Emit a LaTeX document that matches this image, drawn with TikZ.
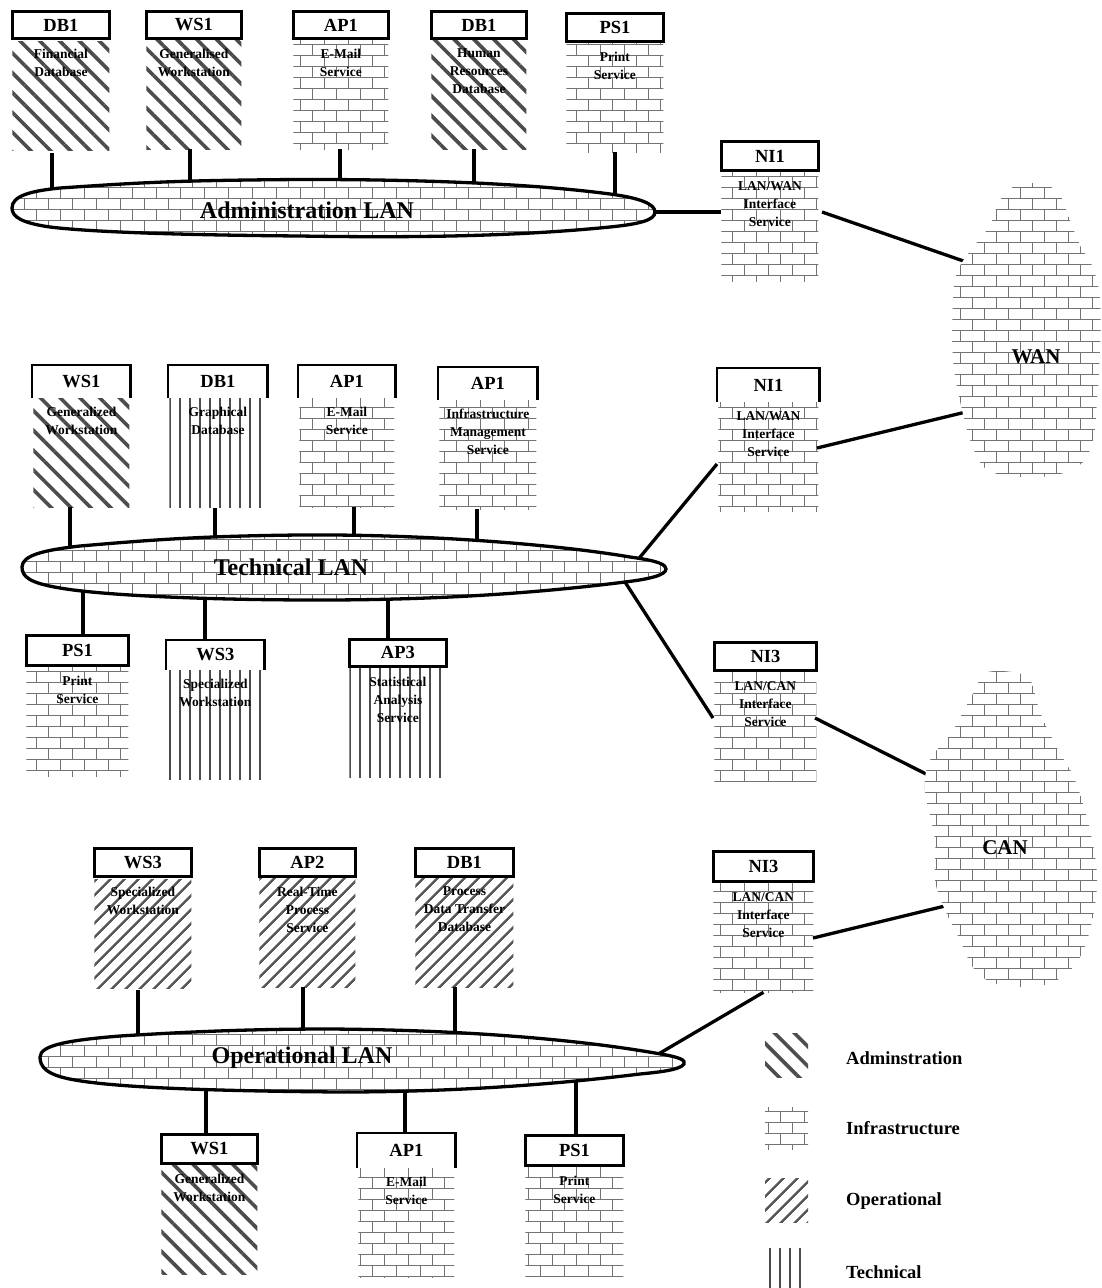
\documentclass[tikz,border=0pt]{standalone}
\usepackage{fontspec}
\setmainfont{Liberation Serif}
\usetikzlibrary{patterns,patterns.meta}

% brick wall fill used for infrastructure services and the networks
\pgfdeclarepatternformonly{wallbricks}{\pgfpoint{-1pt}{-1pt}}{\pgfpoint{25pt}{23pt}}{\pgfpoint{24pt}{22pt}}{%
  \pgfsetlinewidth{1pt}%
  \pgfpathmoveto{\pgfpoint{0pt}{0.5pt}}\pgfpathlineto{\pgfpoint{24pt}{0.5pt}}%
  \pgfpathmoveto{\pgfpoint{0pt}{11.5pt}}\pgfpathlineto{\pgfpoint{24pt}{11.5pt}}%
  \pgfpathmoveto{\pgfpoint{0.5pt}{0.5pt}}\pgfpathlineto{\pgfpoint{0.5pt}{11.5pt}}%
  \pgfpathmoveto{\pgfpoint{12.5pt}{11.5pt}}\pgfpathlineto{\pgfpoint{12.5pt}{22.5pt}}%
  \pgfusepath{stroke}%
}

\tikzset{
  wire/.style={line width=3.3pt},
  hdr/.style={draw, line width=2.9pt, inner sep=0pt, anchor=north west,
              font=\fontsize{18.5}{20}\selectfont\bfseries},
  body/.style={minimum height=109pt, inner sep=0pt, anchor=north},
  adminfill/.style={pattern={Lines[angle=-45,distance=14pt,line width=3.6pt]}, pattern color=black!70},
  opfill/.style={pattern={Lines[angle=45,distance=10.5pt,line width=2.7pt]}, pattern color=black!65},
  techfill/.style={pattern={Lines[angle=90,distance=10pt,line width=1.3pt]}, pattern color=black!70},
  brickfill/.style={pattern=wallbricks, pattern color=black!55},
  bodytext/.style={inner sep=0pt, anchor=north, align=center,
                   font=\fontsize{13.5}{18}\selectfont\bfseries},
  lanshape/.style={draw, line width=3.3pt, preaction={fill=white}, brickfill},
  cloudshape/.style={preaction={fill=white}, brickfill},
  lanlabel/.style={inner sep=0pt, font=\fontsize{24}{26}\selectfont\bfseries},
  netlabel/.style={inner sep=0pt, font=\fontsize{21}{24}\selectfont\bfseries},
  legicon/.style={minimum width=43pt, inner sep=0pt, anchor=north west},
  legtext/.style={inner sep=0pt, anchor=west, font=\fontsize{18.5}{20}\selectfont\bfseries},
}

% #1 name, #2 x, #3 y, #4 width, #5 header height, #6 label, #7 fill, #8 description
\newcommand\devclosed[8]{%
  \node[hdr, minimum width=#4pt, minimum height=#5pt] (#1h) at (#2,#3) {#6};
  \node[body, minimum width=#4pt, #7] (#1b) at (#1h.south) {};
  \node[bodytext] (#1t) at ([yshift=-9pt]#1b.north) {#8};
}
\newcommand\devopen[8]{%
  \node[hdr, draw=none, minimum width=#4pt, minimum height=#5pt] (#1h) at (#2,#3) {#6};
  \draw[line width=2.9pt] (#1h.south west) -- (#1h.north west) -- (#1h.north east) -- (#1h.south east);
  \node[body, minimum width=#4pt, #7] (#1b) at (#1h.south) {};
  \node[bodytext] (#1t) at ([yshift=-9pt]#1b.north) {#8};
}

\begin{document}
\begin{tikzpicture}[x=1pt, y=-1pt]
\useasboundingbox (0,0) rectangle (1101,1288);
\fill[white] (0,0) rectangle (1101,1288);

% ---------- Administration segment ----------
\devclosed{a1}{11}{10}{97}{27}{DB1}{adminfill}{Financial\\Database}
\devclosed{a2}{145}{10}{95}{27}{WS1}{adminfill}{Generalised\\Workstation}
\devclosed{a3}{292}{10}{95}{27}{AP1}{brickfill}{E-Mail\\Service}
\devclosed{a4}{430}{10}{95}{27}{DB1}{adminfill}{Human\\Resources\\Database}
\devclosed{a5}{565}{12}{97}{28}{PS1}{brickfill}{Print\\Service}
\devclosed{n1}{720}{140}{97}{29}{NI1}{brickfill}{LAN/WAN\\Interface\\Service}

% ---------- Technical segment ----------
\devopen{t1}{32}{365}{96}{30}{WS1}{adminfill}{Generalized\\Workstation}
\devopen{t2}{168}{365}{97}{30}{DB1}{techfill}{Graphical\\Database}
\devopen{t3}{298}{365}{95}{30}{AP1}{brickfill}{E-Mail\\Service}
\devopen{t4}{438}{367}{97}{30}{AP1}{brickfill}{Infrastructure\\Management\\Service}
\devopen{n2}{717}{368}{100}{31}{NI1}{brickfill}{LAN/WAN\\Interface\\Service}
\devclosed{t5}{25}{634}{102}{30}{PS1}{brickfill}{Print\\Service}
\devopen{t6}{166}{640}{96}{27}{WS3}{techfill}{Specialized\\Workstation}
\devclosed{t7}{348}{638}{97}{27}{AP3}{techfill}{Statistical\\Analysis\\Service}
\devclosed{n3}{713}{641}{102}{28}{NI3}{brickfill}{LAN/CAN\\Interface\\Service}

% ---------- Operational segment ----------
\devclosed{o1}{93}{847}{97}{28}{WS3}{opfill}{Specialized\\Workstation}
\devclosed{o2}{258}{847}{96}{28}{AP2}{opfill}{Real-Time\\Process\\Service}
\devclosed{o3}{414}{847}{98}{28}{DB1}{opfill}{Process\\Data Transfer\\Database}
\devclosed{n4}{712}{850}{100}{30}{NI3}{brickfill}{LAN/CAN\\Interface\\Service}
\devclosed{o4}{160}{1133}{96}{29}{WS1}{adminfill}{Generalized\\Workstation}
\devopen{o5}{357}{1133}{96}{32}{AP1}{brickfill}{E-Mail\\Service}
\devclosed{o6}{524}{1134}{98}{30}{PS1}{brickfill}{Print\\Service}

% ---------- taps into the LANs ----------
\coordinate (c-a1) at (52,208);  \coordinate (c-a2) at (190,208);
\coordinate (c-a3) at (340,208); \coordinate (c-a4) at (474,208);
\coordinate (c-a5) at (615,208);
\coordinate (c-t1) at (70,567);  \coordinate (c-t2) at (215,567);
\coordinate (c-t3) at (354,567); \coordinate (c-t4) at (477,567);
\coordinate (c-t5) at (83,567);  \coordinate (c-t6) at (205,567);
\coordinate (c-t7) at (388,567);
\coordinate (c-o1) at (138,1058); \coordinate (c-o2) at (303,1058);
\coordinate (c-o3) at (455,1058); \coordinate (c-o4) at (206,1058);
\coordinate (c-o5) at (405,1058); \coordinate (c-o6) at (576,1058);

\foreach \d in {a1,a2,a3,a4,a5,t1,t2,t3,t4,o1,o2,o3}
  \draw[wire] (\d b.south -| c-\d) -- (c-\d);
\foreach \d in {t5,t6,t7,o4,o5,o6}
  \draw[wire] (\d h.north -| c-\d) -- (c-\d);

% ---------- links between LANs, interfaces and wide networks ----------
\coordinate (adm-e) at (645,212);
\coordinate (tech-ne) at (636,562);
\coordinate (tech-se) at (625,582);
\coordinate (op-ne) at (655,1056);
\coordinate (n1-r) at (822,212);  \coordinate (wan-in1) at (975,265);
\coordinate (n2-l) at (717,464);  \coordinate (n2-r) at (817,448);
\coordinate (wan-in2) at (970,411);
\coordinate (n3-l) at (713,718);  \coordinate (n3-r) at (815,718);
\coordinate (can-in1) at (932,777);
\coordinate (n4-r) at (813,938);  \coordinate (can-in2) at (945,906);

\draw[wire] (adm-e) -- (adm-e -| n1b.west);
\draw[wire] (n1-r) -- (wan-in1);
\draw[wire] (tech-ne) -- (n2-l);
\draw[wire] (n2-r) -- (wan-in2);
\draw[wire] (tech-se) -- (n3-l);
\draw[wire] (n3-r) -- (can-in1);
\draw[wire] (op-ne) -- (n4b.south);
\draw[wire] (n4-r) -- (can-in2);

% ---------- LAN backbones ----------
\path[lanshape] (12,208) .. controls (12,196) and (30,191) .. (60,188)
  .. controls (120,184) and (160,181) .. (250,180)
  .. controls (380,178) and (520,182) .. (610,194)
  .. controls (640,198) and (655,204) .. (655,212)
  .. controls (655,220) and (640,224) .. (610,227)
  .. controls (520,236) and (420,238) .. (300,236)
  .. controls (180,235) and (90,232) .. (50,227)
  .. controls (22,223) and (12,217) .. cycle;
\node[lanlabel] (adminlan) at (307,210) {Administration LAN};

\path[lanshape] (22,567) .. controls (22,555) and (45,550) .. (80,546)
  .. controls (150,540) and (200,536) .. (300,535)
  .. controls (430,534) and (560,545) .. (630,557)
  .. controls (660,561) and (666,565) .. (666,569)
  .. controls (666,575) and (650,579) .. (625,582)
  .. controls (530,594) and (430,600) .. (320,600)
  .. controls (200,600) and (100,595) .. (60,588)
  .. controls (30,583) and (22,577) .. cycle;
\node[lanlabel] (techlan) at (291,567) {Technical LAN};

\path[lanshape] (40,1057) .. controls (40,1045) and (70,1040) .. (120,1036)
  .. controls (200,1031) and (260,1029) .. (330,1029)
  .. controls (470,1030) and (580,1040) .. (655,1053)
  .. controls (680,1057) and (686,1060) .. (684,1064)
  .. controls (680,1070) and (660,1072) .. (640,1074)
  .. controls (550,1085) and (450,1092) .. (340,1092)
  .. controls (220,1091) and (120,1088) .. (75,1080)
  .. controls (45,1075) and (40,1066) .. cycle;
\node[lanlabel] (oplan) at (302,1058) {Operational LAN};

% ---------- wide area and campus networks ----------
\path[cloudshape] plot[smooth cycle, tension=0.6] coordinates {
  (1017,185) (1040,184) (1058,192) (1068,215) (1080,245) (1093,268)
  (1100,300) (1100,350) (1097,400) (1093,440) (1080,465) (1050,476)
  (1010,476) (985,468) (972,445) (962,410) (953,360) (953,300)
  (958,270) (975,245) (990,225) (1000,200)};
\node[netlabel] (wan) at (1036,357) {WAN};

\path[cloudshape] plot[smooth cycle, tension=0.6] coordinates {
  (985,673) (1012,672) (1030,680) (1040,712) (1057,748) (1075,780)
  (1090,830) (1097,880) (1090,930) (1075,965) (1045,985) (1000,985)
  (975,970) (960,940) (945,910) (935,880) (935,840) (925,790)
  (930,760) (950,735) (963,712) (975,690)};
\node[netlabel] (can) at (1005,848) {CAN};

% ---------- legend ----------
\node[legicon, minimum height=44pt, adminfill] (lg-adm) at (765,1033) {};
\node[legtext] (lg-adm-t) at (846,1058) {Adminstration};
\node[legicon, minimum height=42pt, brickfill] (lg-inf) at (765,1107) {};
\node[legtext] (lg-inf-t) at (846,1128) {Infrastructure};
\node[legicon, minimum height=44pt, opfill] (lg-op) at (765,1178) {};
\node[legtext] (lg-op-t) at (846,1201) {Operational};
\node[legicon, minimum height=40pt, techfill] (lg-tech) at (765,1248) {};
\node[legtext] (lg-tech-t) at (846,1272) {Technical};
\end{tikzpicture}
\end{document}
